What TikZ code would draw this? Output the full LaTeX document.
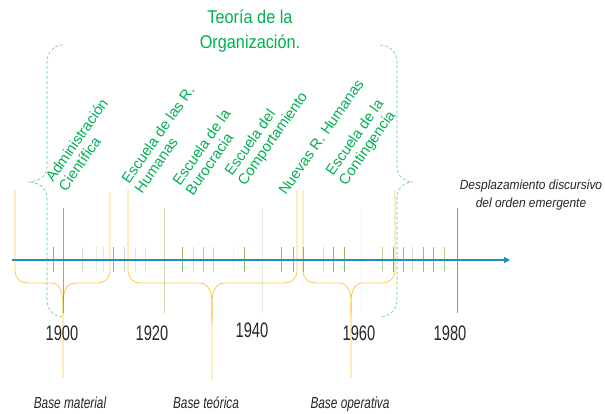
\documentclass[tikz,border=0pt]{standalone}
\usepackage{fontspec}
\setmainfont{Liberation Sans}
\newfontfamily\titlefont{Liberation Sans}[FakeStretch=0.88]
\newfontfamily\yearfont{Liberation Sans}[FakeStretch=0.70]
\newfontfamily\basefont{Liberation Sans}[FakeStretch=0.74]
\newfontfamily\notefont{Liberation Sans}[FakeStretch=0.90]
\usetikzlibrary{arrows.meta}
\definecolor{tgreen}{RGB}{0,176,80}
\definecolor{dgreen}{RGB}{90,205,135}
\definecolor{tickgreen}{RGB}{112,173,71}
\definecolor{axisblue}{RGB}{30,140,200}
\definecolor{ygold}{RGB}{255,200,70}
\definecolor{ink}{RGB}{38,38,38}
\tikzset{
  dbrace/.style={draw=dgreen, line width=0.6pt, dash pattern=on 3pt off 2pt},
  ybrace/.style={draw=ygold, line width=0.8pt},
  tickline/.style={draw=tickgreen, line width=1pt},
  axisline/.style={draw=axisblue, line width=1.6pt, -{Triangle[length=6pt,width=6pt]}},
  school/.style={text=tgreen, rotate=55, anchor=base west, inner sep=0pt, font=\fontsize{14.8}{16}\selectfont},
  year/.style={text=ink, anchor=base, inner sep=0pt, font=\yearfont\fontsize{21}{24}\selectfont},
  baselab/.style={text=ink, anchor=base, inner sep=0pt, font=\basefont\itshape\fontsize{16}{18}\selectfont},
}
\begin{document}
\begin{tikzpicture}[x=1pt,y=-1pt]
\useasboundingbox (0,0) rectangle (605,413);
% green dashed braces
\draw[dbrace] (63,45) to[out=180,in=90] (47,62) -- (47,167) to[out=-90,in=0] (28,182)
  to[out=0,in=90] (47,197) -- (47,300) to[out=-90,in=180] (63,317);
\draw[dbrace] (380,45) to[out=0,in=90] (397,62) -- (397,167) to[out=-90,in=180] (413,182)
  to[out=180,in=90] (397,197) -- (397,300) to[out=-90,in=0] (380,317);
% yellow braces
\draw[ybrace] (15,190) -- (15,271) to[out=-90,in=180] (27,283) -- (51,283) to[out=0,in=90] (63,315) -- (63,378);
\draw[ybrace] (110,192) -- (110,271) to[out=-90,in=0] (98,283) -- (75,283) to[out=180,in=90] (63,315);
\draw[ybrace] (128,190) -- (128,271) to[out=-90,in=180] (140,283) -- (199,283) to[out=0,in=90] (212,322) -- (212,380);
\draw[ybrace] (297,190) -- (297,271) to[out=-90,in=0] (285,283) -- (225,283) to[out=180,in=90] (212,322);
\draw[ybrace] (303,190) -- (303,271) to[out=-90,in=180] (315,283) -- (339,283) to[out=0,in=90] (351,318) -- (351,378);
\draw[ybrace] (395,190) -- (395,271) to[out=-90,in=0] (383,283) -- (363,283) to[out=180,in=90] (351,318);
% short ticks
\foreach \x/\o in {53/0.8, 82/0.35, 96/0.2, 103/0.25, 113/0.8, 124/0.4, 135/0.25, 145/0.25,
  182/0.8, 193/0.35, 203/0.6, 213/0.4, 233/0.15, 244/0.8, 281/0.8, 293/0.8, 303/0.8,
  323/0.35, 333/0.8, 344/0.8, 382/0.5, 393/0.9, 403/0.7, 412/0.35, 423/0.75, 433/0.75, 444/0.6}
  \draw[tickline, draw opacity=\o] (\x,247) -- (\x,272);
% tall ticks
\foreach \x/\o in {63/0.85, 164/0.4, 262/0.2, 361/0.1, 457/0.95}
  \draw[tickline, draw opacity=\o] (\x,208) -- (\x,313);
% axis
\coordinate (axs) at (12,260);
\coordinate (axe) at (510,260);
\draw[axisline] (axs) -- (axe);
% title
\node[text=tgreen, anchor=base, inner sep=0pt, font=\titlefont\fontsize{18.5}{25}\selectfont] (title) at (250,23)
  {\begin{tabular}[t]{@{}c@{}}Teoría de la\\Organización.\end{tabular}};
% schools
\node[school] (s1) at (53,183) {\begin{tabular}[t]{@{}l@{}}Administración\\Científica\end{tabular}};
\node[school] (s2) at (129,185) {\begin{tabular}[t]{@{}l@{}}Escuela de las R.\\Humanas\end{tabular}};
\node[school] (s3) at (180,187) {\begin{tabular}[t]{@{}l@{}}Escuela de la\\Burocracia\end{tabular}};
\node[school] (s4) at (232,177) {\begin{tabular}[t]{@{}l@{}}Escuela del\\Comportamiento\end{tabular}};
\node[school] (s5) at (286,196) {Nuevas R. Humanas};
\node[school] (s6) at (333,177) {\begin{tabular}[t]{@{}l@{}}Escuela de la\\Contingencia\end{tabular}};
% note
\node[text=ink, anchor=base, inner sep=0pt, font=\notefont\itshape\fontsize{13.3}{18}\selectfont] (note) at (531,189)
  {\begin{tabular}[t]{@{}c@{}}Desplazamiento discursivo\\del orden emergente\end{tabular}};
% years
\node[year] (y1900) at (62,340) {1900};
\node[year] (y1920) at (152,340) {1920};
\node[year] (y1940) at (252,337) {1940};
\node[year] (y1960) at (359,340) {1960};
\node[year] (y1980) at (450,340) {1980};
% base labels
\node[baselab] (b1) at (70,408) {Base material};
\node[baselab] (b2) at (206,408) {Base teórica};
\node[baselab] (b3) at (350,408) {Base operativa};
\end{tikzpicture}
\end{document}
